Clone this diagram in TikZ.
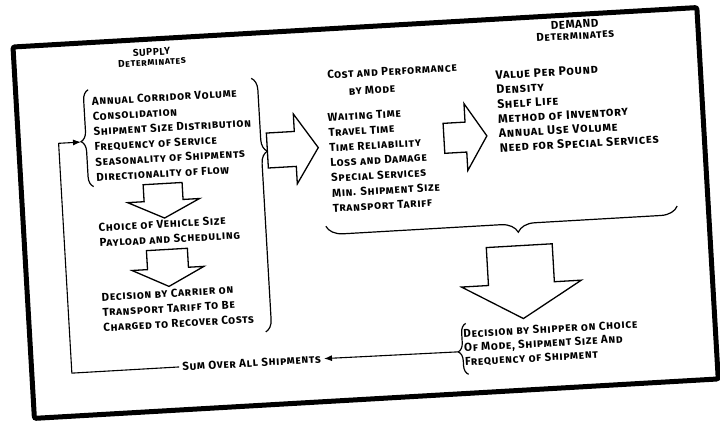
\documentclass[tikz,border=0pt]{standalone}
\usepackage{fontspec}
\setmainfont{Fira Sans}[LetterSpace=5.5]
\usetikzlibrary{arrows.meta, decorations.pathreplacing}
\tikzset{
  item/.style={font=\fontsize{11.5}{15.2}\selectfont\bfseries\scshape, inner sep=0pt,
    align=left, anchor=west},
  heading/.style={font=\fontsize{10}{10}\selectfont\bfseries\scshape, inner sep=0pt, align=center},
  fatarrow/.style={draw=black, line width=1.3pt, fill=white, line join=miter},
  curly/.style={decorate, decoration={brace, amplitude=#1}, line width=1.2pt},
  flowarrow/.style={-{Latex[length=8pt, width=6pt]}, line width=1.1pt},
  outerframe/.style={line width=5pt, rounded corners=2pt}
}
% block arrows: start point, shaft length, shaft half width, head length, head half width
\newcommand{\fatright}[5]{\draw[fatarrow] (#1) ++(0,#3) -- ++(#2,0) -- ++(0,#5-#3)
  -- ++(#4,-#5) -- ++(-#4,-#5) -- ++(0,#5-#3) -- ++(-#2,0) -- cycle;}
\newcommand{\fatdown}[5]{\draw[fatarrow] (#1) ++(-#3,0) -- ++(0,-#2) -- ++(#3-#5,0)
  -- ++(#5,-#4) -- ++(#5,#4) -- ++(#3-#5,0) -- ++(0,#2) -- cycle;}

\begin{document}
\begin{tikzpicture}[x=1pt, y=1pt]
  \useasboundingbox (0,0) rectangle (720,-423);
  \begin{scope}[shift={(13,-47)}, rotate=3.3, transform shape]
  \draw[outerframe] (0,0) rectangle (685,-372);

  % supply side
  \node[heading] (supplyhead) at (138,-18) {SUPPLY\\Determinates};
  \node[item] (supplist) at (75.5,-96.8) {Annual Corridor Volume\\Consolidation\\Shipment Size Distribution\\Frequency of Service\\Seasonality of Shipments\\Directionality of Flow};
  \node[item] (choice) at (75,-193) {Choice of Vehicle Size\\Payload and Scheduling};
  \node[item] (carrier) at (74,-270) {Decision by Carrier on\\Transport Tariff To Be\\Charged to Recover Costs};
  \coordinate (listtip) at (62.5,-98.8);
  \draw[curly=10, decoration={aspect=0.47}] (72.5,-144) -- (72.5,-47);
  \draw[curly=12, decoration={aspect=0.29}] (236,-45) -- (236,-299);
  \coordinate (downA) at (141.5,-145);
  \coordinate (downB) at (142,-211);
  \fatdown{downA}{17}{19.5}{17.5}{36}
  \fatdown{downB}{19}{20.5}{18}{36}

  % cost and performance
  \coordinate (rightA) at (248,-118);
  \fatright{rightA}{28}{17.5}{23}{35}
  \node[item] (cost) at (312,-46) {Cost and Performance};
  \node[item, anchor=center] (mode) at (356,-63.6) {by Mode};
  \node[item] (costlist) at (310,-134) {Waiting Time\\Travel Time\\Time Reliability\\Loss and Damage\\Special Services\\Min. Shipment Size\\Transport Tariff};

  % demand side
  \coordinate (rightB) at (425,-116);
  \fatright{rightB}{22}{15}{21}{33.5}
  \node[heading, font=\fontsize{11.5}{11}\selectfont\bfseries\scshape] (demandhead) at (562,-15.4) {DEMAND\\Determinates};
  \node[item, font=\fontsize{12.3}{14.6}\selectfont\bfseries\scshape] (demlist) at (480,-92.4) {Value Per Pound\\Density\\Shelf Life\\Method of Inventory\\Annual Use Volume\\Need for Special Services};

  % shipper decision
  \draw[curly=17, decoration={aspect=0.455}] (654,-197) -- (302,-197);
  \coordinate (downC) at (494,-227.5);
  \fatdown{downC}{38}{33}{35}{60}
  \node[item, font=\fontsize{11.5}{14}\selectfont\bfseries\scshape] (shipper) at (433,-327) {Decision by Shipper on Choice\\Of Mode, Shipment Size And\\Frequency of Shipment};
  \draw[curly=9, decoration={aspect=0.45}] (436,-353) -- (436,-302);
  \coordinate (shiptip) at (427,-330);

  % feedback loop
  \node[item, anchor=center, inner xsep=3pt] (sum) at (220,-329) {Sum Over All Shipments};
  \coordinate (loopcorner) at (40,-329);
  \draw[flowarrow] (shiptip) -- (sum.east);
  \draw[flowarrow] (sum.west) -- (loopcorner) |- (listtip);
  \end{scope}
\end{tikzpicture}
\end{document}
